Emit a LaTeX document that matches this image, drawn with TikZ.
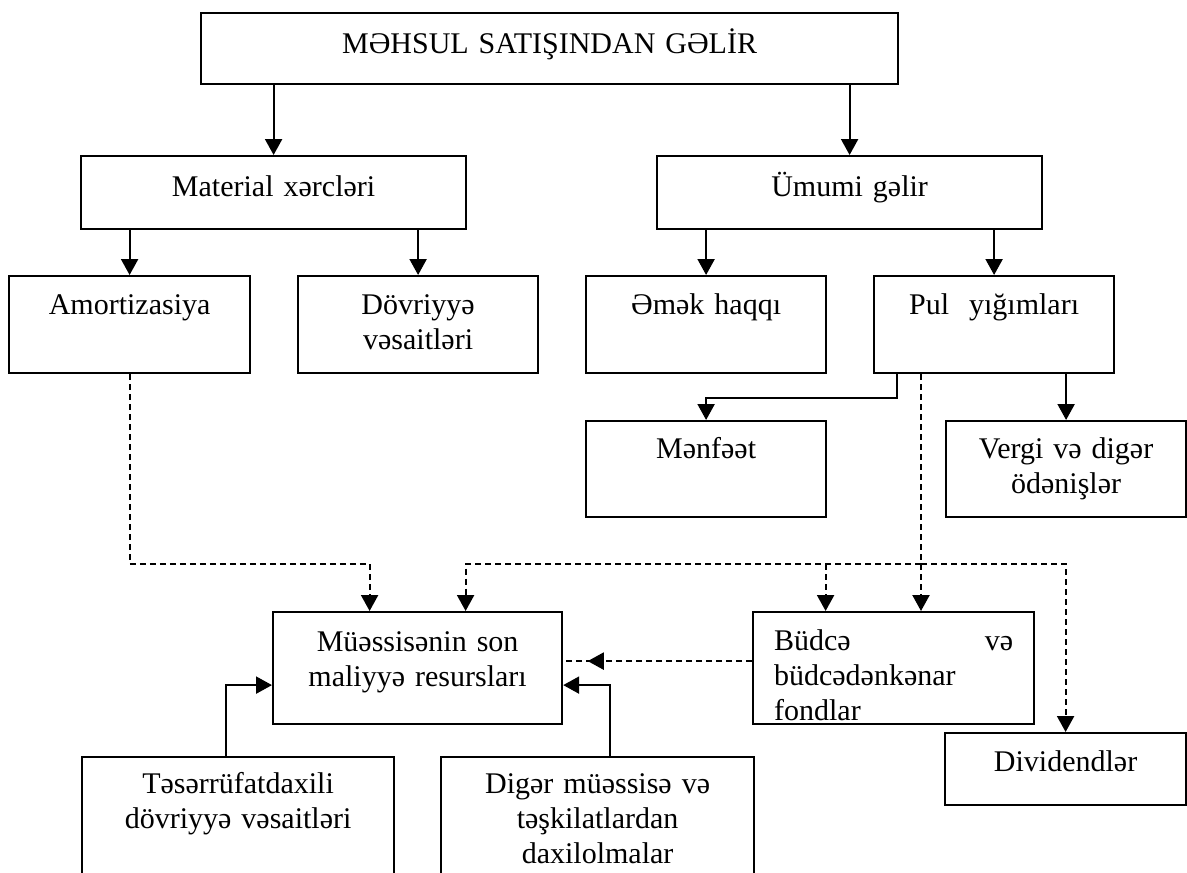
\documentclass[tikz,border=0pt]{standalone}
\usepackage{fontspec}
\setmainfont{Liberation Serif}
\usetikzlibrary{arrows.meta}
\usetikzlibrary{decorations.markings}
\tikzset{
    box/.style 2 args = {draw, line width=2.2pt, inner sep=0pt, anchor=north west, align=center, text height=38pt, text width=#1pt, text depth=#2pt},
    flow/.style = {line width=2.2pt, -{Triangle[length=16pt, width=17pt]}},
    dflow/.style = {flow, dash pattern=on 6pt off 4pt},
    dline/.style = {line width=2.2pt, dash pattern=on 6pt off 4pt},
}

\begin{document}
\begin{tikzpicture}[x=1pt, y=-1pt, font=\fontsize{30}{35}\selectfont]
        \useasboundingbox (0,0) rectangle (1187,873);
        \node[box={697}{31}, text height=40pt] (mahsul) at (200, 12) {MƏHSUL SATIŞINDAN GƏLİR};
        \node[box={385}{33}, text height=40pt] (material) at (80, 155) {Material xərcləri};
        \node[box={385}{33}, text height=40pt] (umumi) at (656, 155) {Ümumi gəlir};
        \node[box={241}{59}] (amort) at (8, 275) {Amortizasiya};
        \node[box={240}{59}] (dovr) at (297, 275) {Dövriyyə\\vəsaitləri};
        \node[box={240}{59}] (emek) at (585, 275) {Əmək haqqı};
        \node[box={240}{59}] (pul) at (873, 275) {Pul\ \ yığımları};
        \node[box={240}{59}, text height=37pt] (menfeet) at (585, 420) {Mənfəət};
        \node[box={240}{59}, text height=37pt] (vergi) at (945, 420) {Vergi və digər\\ödənişlər};
        \node[box={289}{73}, text height=39pt] (muess) at (272, 611) {Müəssisənin son\\maliyyə resursları};
        \node[box={239}{74}, inner xsep=21pt, align=left] (budce) at (752, 611) {Büdcə\hfill və\\büdcədənkənar\\fondlar};
        \node[box={241}{34}] (divid) at (944, 732) {Dividendlər};
        \node[box={312}{104}, text height=36pt] (teser) at (81, 756) {Təsərrüfatdaxili\\dövriyyə vəsaitləri};
        \node[box={313}{104}, text height=36pt] (diger) at (440, 756) {Digər müəssisə və\\təşkilatlardan\\daxilolmalar};
        \coordinate (bus) at (0, 564);
        \coordinate (pulx) at ([xshift=48pt]pul.south west);
        \coordinate (bx) at ([xshift=-68pt]budce.north);
        \draw[flow] (material.north |- mahsul.south) -- (material.north);
        \draw[flow] (umumi.north |- mahsul.south) -- (umumi.north);
        \draw[flow] (amort.north |- material.south) -- (amort.north);
        \draw[flow] (dovr.north |- material.south) -- (dovr.north);
        \draw[flow] (emek.north |- umumi.south) -- (emek.north);
        \draw[flow] (pul.north |- umumi.south) -- (pul.north);
        \draw[flow] ([xshift=24pt]pul.south west) -- ++(0, 24) -| (menfeet.north);
        \draw[flow] (vergi.north |- pul.south) -- (vergi.north);
        \draw[flow] ([xshift=-12pt]teser.north) |- ([yshift=-17pt]muess.west);
        \draw[flow] ([xshift=12pt]diger.north) |- ([yshift=-17pt]muess.east);
        \draw[dflow] (amort.south) -- (amort.south |- bus) -| ([xshift=-48pt]muess.north);
        \draw[dflow] (pulx) -- (pulx |- budce.north);
        \draw[dflow] (pulx |- bus) -| ([xshift=48pt]muess.north);
        \draw[dflow] (pulx |- bus) -| (divid.north);
        \draw[dflow] (bx |- bus) -- (bx);
        \draw[dline, postaction={decorate}, decoration={markings, mark=at position 0.87 with {\arrow{Triangle[length=16pt, width=17pt]}}}] ([yshift=7pt]budce.west) -- ([yshift=7pt]muess.east);
    \end{tikzpicture}
\end{document}
